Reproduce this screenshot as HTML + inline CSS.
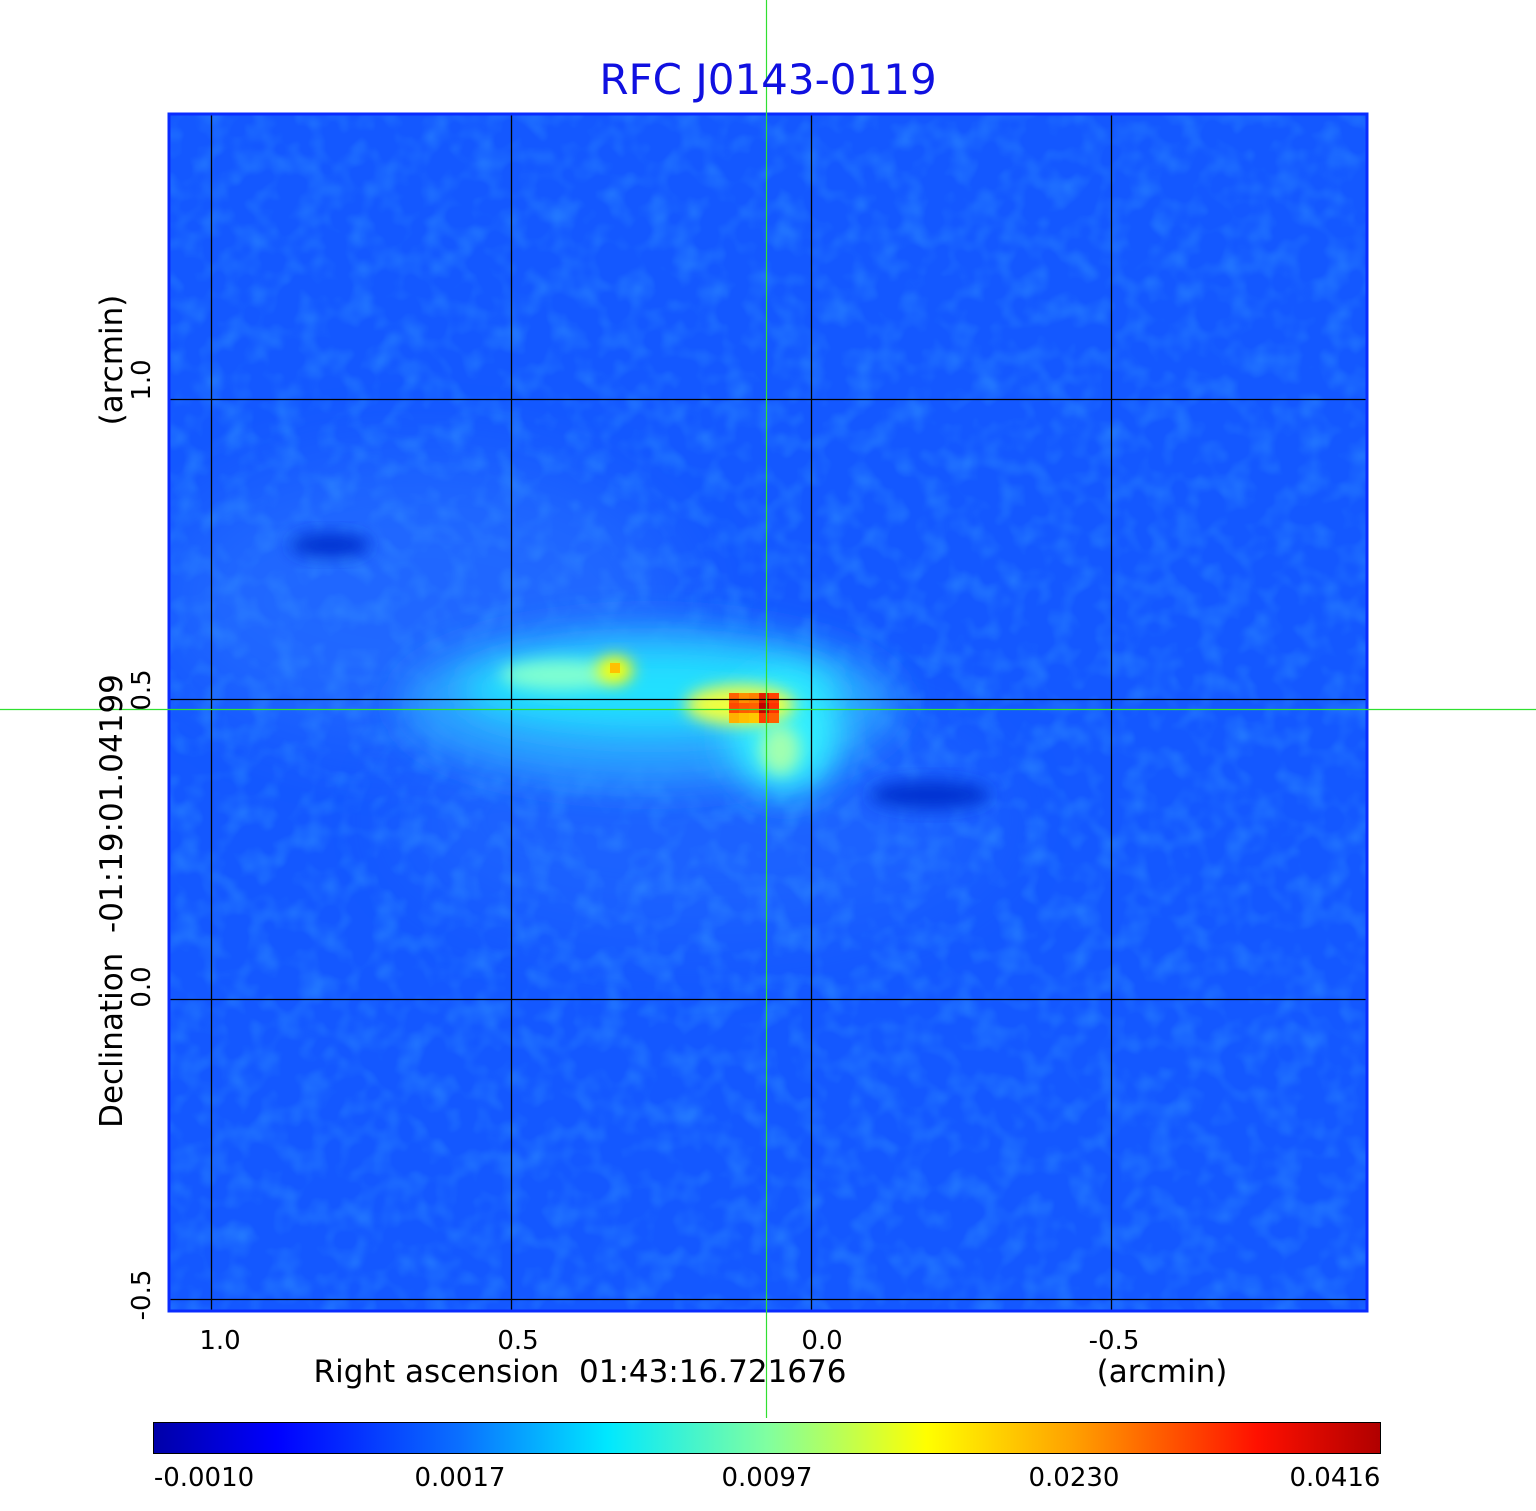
<!DOCTYPE html>
<html><head><style>
html,body{margin:0;padding:0;background:#fff;}
body{width:1536px;height:1511px;position:relative;overflow:hidden;font-family:"DejaVu Sans","Liberation Sans",sans-serif;}
</style></head><body>
<svg width="1536" height="1511" xmlns="http://www.w3.org/2000/svg" style="position:absolute;left:0;top:0">
<defs>
<filter id="b1" x="-50%" y="-50%" width="200%" height="200%"><feGaussianBlur stdDeviation="40"/></filter>
<filter id="b2" x="-50%" y="-50%" width="200%" height="200%"><feGaussianBlur stdDeviation="18"/></filter>
<filter id="b3" x="-50%" y="-50%" width="200%" height="200%"><feGaussianBlur stdDeviation="8"/></filter>
<filter id="noise" x="0" y="0" width="100%" height="100%">
<feTurbulence type="fractalNoise" baseFrequency="0.04" numOctaves="2" seed="3" result="t"/>
<feColorMatrix in="t" type="matrix" values="0 0 0 0 0.05  0 0 0 0 0.45  0 0 0 0 1  0 0 0 1.4 -0.6"/>
</filter>
<clipPath id="c"><rect x="168" y="113" width="1200" height="1199"/></clipPath>
<linearGradient id="cb" x1="0" x2="1" y1="0" y2="0">
<stop offset="0" stop-color="#0000a8"/>
<stop offset="0.1" stop-color="#0000ff"/>
<stop offset="0.25" stop-color="#0a70ff"/>
<stop offset="0.37" stop-color="#00e8ff"/>
<stop offset="0.5" stop-color="#80ffa0"/>
<stop offset="0.63" stop-color="#ffff00"/>
<stop offset="0.75" stop-color="#ffa000"/>
<stop offset="0.9" stop-color="#ff1000"/>
<stop offset="1" stop-color="#b00000"/>
</linearGradient>
</defs>
<g clip-path="url(#c)">
<rect x="168" y="113" width="1200" height="1199" fill="#1458ff"/>
<rect x="168" y="113" width="1200" height="1199" filter="url(#noise)" opacity="0.5"/>
<ellipse cx="420" cy="600" rx="260" ry="140" fill="#3c8cff" opacity="0.3" filter="url(#b1)"/>
<ellipse cx="700" cy="820" rx="300" ry="120" fill="#3c8cff" opacity="0.2" filter="url(#b1)"/>
<ellipse cx="650" cy="705" rx="250" ry="80" fill="#2a9cff" filter="url(#b2)"/>
<ellipse cx="650" cy="690" rx="190" ry="42" fill="#20e0ff" filter="url(#b2)"/>
<ellipse cx="785" cy="735" rx="55" ry="60" fill="#30f0ff" filter="url(#b2)"/>
<ellipse cx="780" cy="750" rx="20" ry="25" fill="#a0ffb0" filter="url(#b3)"/>
<ellipse cx="560" cy="675" rx="60" ry="15" fill="#80ffd0" filter="url(#b3)"/>
<ellipse cx="615" cy="670" rx="18" ry="14" fill="#ffff00" filter="url(#b3)"/>
<ellipse cx="740" cy="705" rx="55" ry="20" fill="#f0ff40" filter="url(#b3)"/>
<ellipse cx="330" cy="545" rx="40" ry="12" fill="#0030d0" filter="url(#b3)"/>
<ellipse cx="930" cy="795" rx="60" ry="14" fill="#0030d0" filter="url(#b3)"/>
<rect x="610" y="663" width="10" height="10" fill="#ffc000"/>
<g>
<rect x="729" y="693" width="10" height="10" fill="#ff6000"/>
<rect x="739" y="693" width="10" height="10" fill="#ff9000"/>
<rect x="749" y="693" width="10" height="10" fill="#ff8000"/>
<rect x="759" y="693" width="10" height="10" fill="#e02000"/>
<rect x="769" y="693" width="10" height="10" fill="#ff4000"/>
<rect x="729" y="703" width="10" height="10" fill="#ff4800"/>
<rect x="739" y="703" width="10" height="10" fill="#ff5a00"/>
<rect x="749" y="703" width="10" height="10" fill="#ff6000"/>
<rect x="759" y="703" width="10" height="10" fill="#c00000"/>
<rect x="769" y="703" width="10" height="10" fill="#ff3000"/>
<rect x="729" y="713" width="10" height="10" fill="#ffb000"/>
<rect x="739" y="713" width="10" height="10" fill="#ffc000"/>
<rect x="749" y="713" width="10" height="10" fill="#ffc800"/>
<rect x="759" y="713" width="10" height="10" fill="#ff4000"/>
<rect x="769" y="713" width="10" height="10" fill="#ff6000"/>
</g>
<g stroke="#000" stroke-width="1.3">
<line x1="211.5" y1="113" x2="211.5" y2="1312"/>
<line x1="511.5" y1="113" x2="511.5" y2="1312"/>
<line x1="811.5" y1="113" x2="811.5" y2="1312"/>
<line x1="1111.5" y1="113" x2="1111.5" y2="1312"/>
<line x1="168" y1="399.5" x2="1368" y2="399.5"/>
<line x1="168" y1="699.5" x2="1368" y2="699.5"/>
<line x1="168" y1="999.5" x2="1368" y2="999.5"/>
<line x1="168" y1="1299.5" x2="1368" y2="1299.5"/>
</g>
</g>
<rect x="169" y="114" width="1198" height="1197" fill="none" stroke="#0a2cff" stroke-width="3"/>
<line x1="766.5" y1="0" x2="766.5" y2="1418" stroke="#30e030" stroke-width="1.2"/>
<line x1="0" y1="709.5" x2="1536" y2="709.5" stroke="#30e030" stroke-width="1.2"/>
<text x="768" y="94" font-size="42" fill="#1010e0" text-anchor="middle" font-family="DejaVu Sans, Liberation Sans, sans-serif">RFC J0143-0119</text>
<g font-size="26" fill="#000" font-family="DejaVu Sans, Liberation Sans, sans-serif">
<text x="220" y="1349" text-anchor="middle">1.0</text>
<text x="518" y="1349" text-anchor="middle">0.5</text>
<text x="822" y="1349" text-anchor="middle">0.0</text>
<text x="1114" y="1349" text-anchor="middle">-0.5</text>
<text x="580" y="1382" text-anchor="middle" font-size="31">Right ascension&#160;&#160;01:43:16.721676</text>
<text x="1162" y="1382" text-anchor="middle" font-size="31">(arcmin)</text>
<text transform="translate(150,380) rotate(-90)" text-anchor="middle">1.0</text>
<text transform="translate(150,690) rotate(-90)" text-anchor="middle">0.5</text>
<text transform="translate(150,987) rotate(-90)" text-anchor="middle">0.0</text>
<text transform="translate(150,1295) rotate(-90)" text-anchor="middle">-0.5</text>
<text transform="translate(122,360) rotate(-90)" text-anchor="middle" font-size="31">(arcmin)</text>
<text transform="translate(122,901) rotate(-90)" text-anchor="middle" font-size="31">Declination&#160;&#160;-01:19:01.04199</text>
</g>
<rect x="153.5" y="1422.5" width="1227" height="31" fill="url(#cb)" stroke="#000" stroke-width="1"/>
<g font-size="26" fill="#000" text-anchor="middle" font-family="DejaVu Sans, Liberation Sans, sans-serif">
<text x="204" y="1486">-0.0010</text>
<text x="460" y="1486">0.0017</text>
<text x="767" y="1486">0.0097</text>
<text x="1074" y="1486">0.0230</text>
<text x="1335" y="1486">0.0416</text>
</g>
</svg>
</body></html>
